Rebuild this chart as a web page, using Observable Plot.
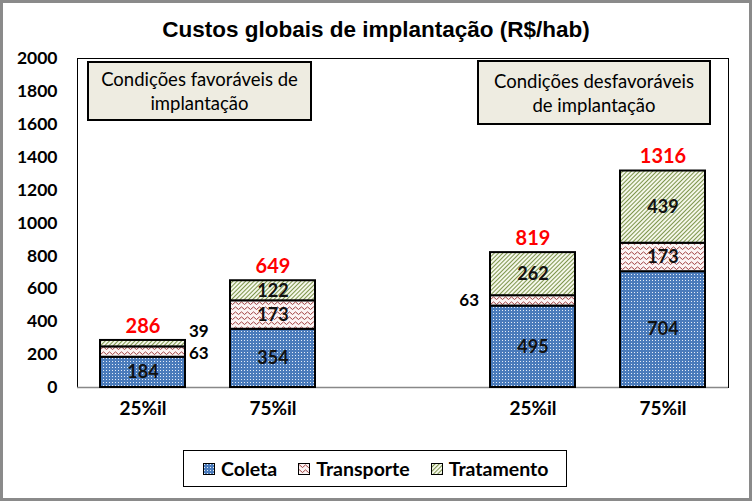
<!DOCTYPE html>
<html>
<head>
<meta charset="utf-8">
<script src="https://cdn.jsdelivr.net/npm/d3@7"></script>
<script src="https://cdn.jsdelivr.net/npm/@observablehq/plot@0.6"></script>
<style>
  body { margin: 0; background: #fff; }
  #wrap { position: relative; width: 752px; height: 501px; overflow: hidden; background: #fff; }
  #border { position: absolute; left: 0; top: 0; width: 752px; height: 501px; box-sizing: border-box; border: 3px solid #8a8a8a; pointer-events: none; }
  #chart { position: absolute; left: 0; top: 0; }
  #title { position: absolute; left: 0; width: 752px; top: 17px; text-align: center; font-family: "Liberation Sans", Arial, sans-serif; font-weight: bold; font-size: 22.5px; color: #000; }
  .note { position: absolute; box-sizing: border-box; background: #eeece1; border: 2px solid #000; font-family: Lato, sans-serif; font-size: 18.5px; line-height: 24px; text-align: center; color: #000; display: flex; align-items: center; justify-content: center; }
  #legend { position: absolute; left: 183px; top: 450px; width: 384px; height: 37px; box-sizing: border-box; border: 1px solid #000; background: #fff; font-family: Lato, sans-serif; font-weight: bold; font-size: 19.5px; display: flex; align-items: center; padding-left: 19px; white-space: nowrap; }
  .item { display: flex; align-items: center; margin-right: 21px; }
  .item svg { margin-right: 6px; }
</style>
</head>
<body>
<svg width="0" height="0" style="position:absolute">
  <defs>
    <pattern id="pColeta" width="3" height="3" patternUnits="userSpaceOnUse">
      <rect width="3" height="3" fill="#4a7bbb"/>
      <rect x="1" y="1" width="1" height="1" fill="#e4ecf7"/>
    </pattern>
    <pattern id="pTransporte" width="6" height="5" patternUnits="userSpaceOnUse">
      <rect width="6" height="5" fill="#fbf4f4"/>
      <path d="M0,3.2 Q1.5,0.6 3,3.2 T6,3.2" fill="none" stroke="#962f2f" stroke-width="0.9"/>
    </pattern>
    <pattern id="pTratamento" width="3" height="3" patternUnits="userSpaceOnUse" patternTransform="rotate(45)">
      <rect width="3" height="3" fill="#f5f7ea"/>
      <line x1="0.5" y1="0" x2="0.5" y2="3" stroke="#6f8a3a" stroke-width="0.9"/>
    </pattern>
  </defs>
</svg>
<div id="wrap">
  <div id="chart"></div>
  <div id="title">Custos globais de implantação (R$/hab)</div>
  <div class="note" style="left:87px;top:61px;width:225px;height:60px;">Condições favoráveis de<br>implantação</div>
  <div class="note" style="left:477px;top:60px;width:234px;height:65px;">Condições desfavoráveis<br>de implantação</div>
  <div id="legend"></div>
  <div id="border"></div>
</div>
<script>
// ---- data ----
const barKeys = ["fav25", "fav75", "gap", "des25", "des75"];
const tickLabels = ["25%il", "75%il", "", "25%il", "75%il"];
const dataBars = ["fav25", "fav75", "des25", "des75"];
const series = ["Coleta", "Transporte", "Tratamento"];
const coleta = [184, 354, 495, 704];
const transporte = [63, 173, 63, 173];
const tratamento = [39, 122, 262, 439];
const totais = [286, 649, 819, 1316];
const yTicks = [0, 200, 400, 600, 800, 1000, 1200, 1400, 1600, 1800, 2000];

// ---- derived tables ----
const seriesValues = [coleta, transporte, tratamento];
const rows = [];
const labelRows = [];
dataBars.forEach((bar, i) => {
  let base = 0;
  series.forEach((serie, s) => {
    const v = seriesValues[s][i];
    rows.push({bar, serie, value: v});
    labelRows.push({bar, serie, value: v, mid: base + v / 2});
    base += v;
  });
});
const totalRows = dataBars.map((bar, i) => ({bar, total: totais[i]}));

// labels drawn outside thin segments
const outsideSpec = [
  {bar: "fav25", serie: "Transporte", side: "right", dx: 46, dy: 1.5},
  {bar: "fav25", serie: "Tratamento", side: "right", dx: 46, dy: -12.5},
  {bar: "des25", serie: "Transporte", side: "left", dx: -54, dy: 0}
];
const isOutside = d => outsideSpec.some(o => o.bar === d.bar && o.serie === d.serie);
const insideRows = labelRows.filter(d => !isOutside(d));

const tickMap = new Map(barKeys.map((k, i) => [k, tickLabels[i]]));
const patternFills = ["url(#pColeta)", "url(#pTransporte)", "url(#pTratamento)"];

const outsideMarks = outsideSpec.map(o =>
  Plot.text(labelRows.filter(d => d.bar === o.bar && d.serie === o.serie), {
    x: "bar", y: "mid", text: d => String(d.value),
    dx: o.dx, dy: o.dy, textAnchor: o.side === "right" ? "start" : "end",
    fontSize: 17, fontWeight: "bold", fill: "#000"
  })
);

const chart = Plot.plot({
  width: 752,
  height: 501,
  marginTop: 58,
  marginBottom: 114,
  marginLeft: 77,
  marginRight: 24,
  style: {fontFamily: "Lato, sans-serif", color: "#000", background: "transparent"},
  x: {domain: barKeys, paddingInner: 0.35, paddingOuter: 0.16, label: null},
  y: {domain: [0, 2000], label: null},
  color: {domain: series, range: patternFills},
  marks: [
    Plot.frame({stroke: "#000", strokeWidth: 1}),
    Plot.ruleY([0], {stroke: "#888", strokeWidth: 1.5}),
    Plot.barY(rows, {x: "bar", y: "value", fill: "serie", stroke: "#000", strokeWidth: 2}),
    Plot.text(insideRows, {x: "bar", y: "mid", text: d => String(d.value), fontSize: 18, fontWeight: "bold", fill: "#111"}),
    ...outsideMarks,
    Plot.text(totalRows, {x: "bar", y: "total", text: d => String(d.total), dy: -14, fontSize: 20, fontWeight: "bold", fill: "#ff0000"}),
    Plot.axisY({ticks: yTicks, tickSize: 0, tickPadding: 20, tickFormat: d => String(d), fontSize: 17.5, fontWeight: "bold", label: null}),
    Plot.axisX({tickSize: 0, tickPadding: 14, fontSize: 19, fontWeight: "bold", tickFormat: d => tickMap.get(d), label: null})
  ]
});
document.getElementById("chart").appendChild(chart);

// legend
const legend = document.getElementById("legend");
series.forEach((s, i) => {
  const item = document.createElement("div");
  item.className = "item";
  item.innerHTML = `<svg width="12" height="12"><rect x="0.5" y="0.5" width="11" height="11" fill="${patternFills[i]}" stroke="#000" stroke-width="1"/></svg><span>${s}</span>`;
  legend.appendChild(item);
});
</script>
</body>
</html>
